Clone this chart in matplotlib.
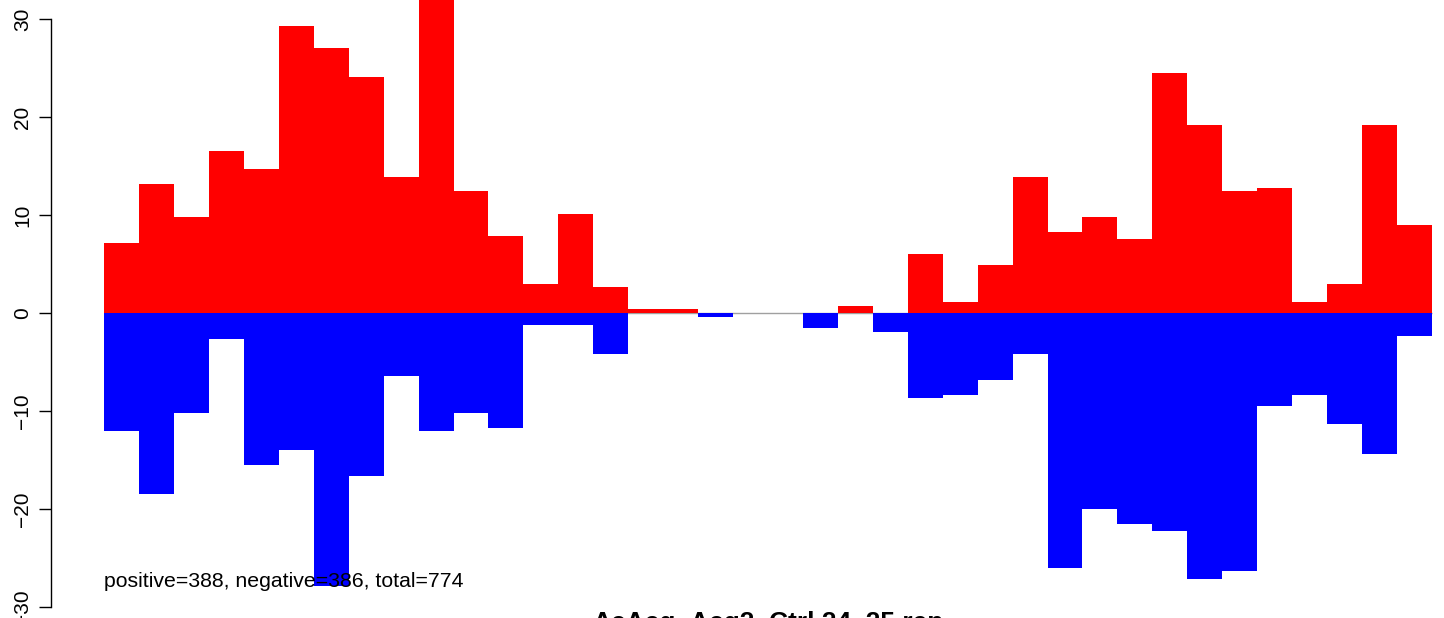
import matplotlib

matplotlib.use("Agg")
import matplotlib.pyplot as plt
import numpy as np

plt.rcParams["font.family"] = ["Liberation Sans", "DejaVu Sans"]

# per-bin counts (38 bins)
positive = [
    7.2, 13.2, 9.8, 16.6, 14.7, 29.3, 27.1, 24.1, 13.9, 34.0,
    12.5, 7.9, 3.0, 10.1, 2.7, 0.4, 0.4, 0.0, 0.0, 0.0,
    0.0, 0.75, 0.0, 6.0, 1.15, 4.9, 13.9, 8.3, 9.8, 7.6,
    24.5, 19.2, 12.5, 12.8, 1.15, 3.0, 19.2, 9.0,
]
negative = [
    -12.0, -18.4, -10.2, -2.6, -15.5, -13.9, -27.8, -16.6, -6.4, -12.0,
    -10.2, -11.7, -1.2, -1.2, -4.15, 0.0, 0.0, -0.4, 0.0, 0.0,
    -1.5, 0.0, -1.9, -8.6, -8.3, -6.8, -4.15, -26.0, -20.0, -21.5,
    -22.2, -27.1, -26.3, -9.45, -8.3, -11.3, -14.4, -2.3,
]
yticks = [-30, -20, -10, 0, 10, 20, 30]
summary = "positive=388, negative=386, total=774"
title = "AcAcq_Acq2_Ctrl.24_25.rep"

W, H = 1444, 618
fig = plt.figure(figsize=(W / 100, H / 100), dpi=100)

# plot region in pixels (R-style, partly outside the saved image)
n = len(positive)
x_lo, x_hi = -0.04 * n, n + 0.04 * n
y_lo, y_hi = -31.5, 32.0
left_px, right_px = 51, 1485
top_px = 313.3 - y_hi * 9.8
bot_px = 313.3 - y_lo * 9.8
ax = fig.add_axes([
    left_px / W,
    (H - bot_px) / H,
    (right_px - left_px) / W,
    (bot_px - top_px) / H,
])

x = np.arange(n)
ax.hlines(0, 0, n, color="#a0a0a0", linewidth=1.0, zorder=0)
ax.bar(x, positive, width=1.0, align="edge", color="#ff0000",
       linewidth=0, zorder=1)
ax.bar(x, negative, width=1.0, align="edge", color="#0000ff",
       linewidth=0, zorder=1)

ax.set_xlim(x_lo, x_hi)
ax.set_ylim(y_lo, y_hi)
for side in ["top", "right", "bottom"]:
    ax.spines[side].set_visible(False)
ax.spines["left"].set_bounds(-30, 30)
ax.spines["left"].set_linewidth(1.0)
ax.set_xticks([])
ax.set_yticks(yticks)
ax.set_yticklabels([str(t).replace("-", "\u2212") for t in yticks],
                   rotation=90, va="center", fontsize=15)
ax.tick_params(axis="y", length=8.6, width=1.0, pad=5)
ax.patch.set_visible(False)

ax.text(0, -27.9, summary, fontsize=15.3, color="#000000",
        ha="left", va="baseline", zorder=3)
fig.text(768 / W, (H - 630) / H, title, fontsize=19,
         fontweight="bold", ha="center", va="baseline")

fig.savefig("out.png", dpi=100)
